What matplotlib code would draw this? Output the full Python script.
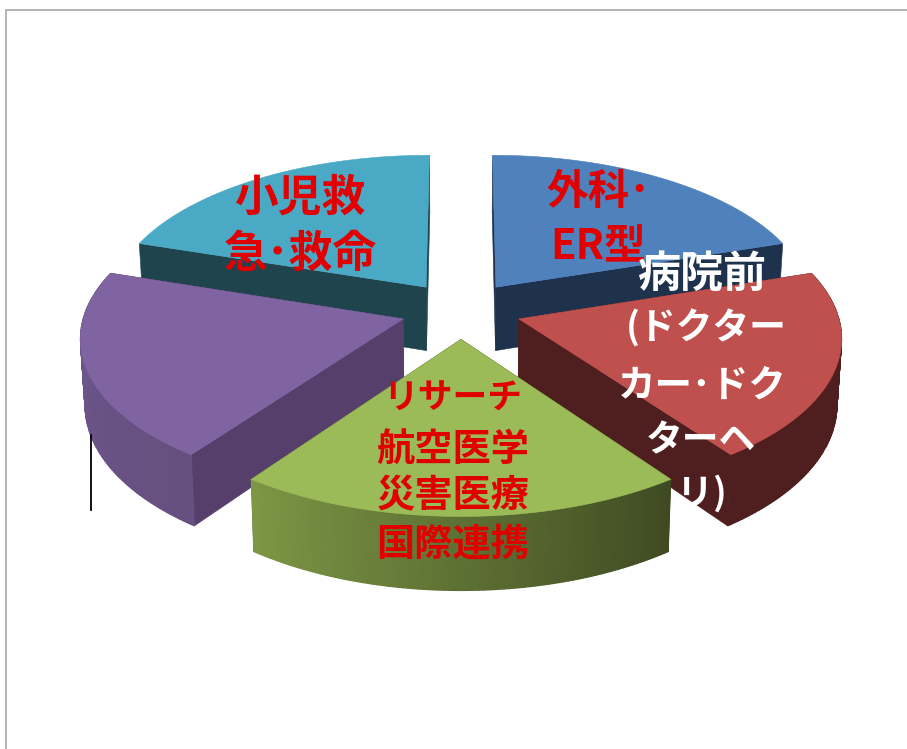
import numpy as np
import matplotlib
matplotlib.use("Agg")
import matplotlib.pyplot as plt
from matplotlib.colors import to_rgb
from matplotlib.patches import Polygon

plt.rcParams['font.family'] = ['Noto Sans CJK JP', 'DejaVu Sans']

# Five equal slices, clockwise from 12 o'clock
slice_names = ['外科･ER型', '病院前', 'リサーチ', '無記載', '小児救急･救命']
values = [20, 20, 20, 20, 20]
top_colors = ['#4f81bd', '#c0504d', '#9bbb59', '#8064a2', '#4aa9c4']
cut_colors = ['#1e324d', '#4f1f1f', '#3f4a22', '#56406b', '#1f444e']
# side gradient, start of arc -> end of arc (clockwise)
arc_start = ['#1e324d', '#4f1f1f', '#3f4a22', '#65507f', '#1f444e']
arc_end = ['#1e324d', '#4f1f1f', '#7d9846', '#6f5790', '#1f444e']

# Projection of the tilted pie, in pixels
cx, cy = 461, 310
rx, ry = 318, 151
persp = 0.109
explode = 0.19
depth = 64.5
shrink = 0.012

# Text lines: text, x, y, size, colour
red = '#e00000'
text_lines = [
    ('小児救', 300, 198, 31.5, red),
    ('急･救命', 300, 254, 31.5, red),
    ('外科･', 598, 192, 30, red),
    ('ER型', 598, 247, 30, red),
    ('病院前', 702, 274, 31, 'white'),
    ('(ドクター', 706, 329, 26.5, 'white'),
    ('カー･ドク', 702, 385, 27, 'white'),
    ('ターヘ', 701, 441, 26.5, 'white'),
    ('リ)', 702, 494, 26, 'white'),
    ('リサーチ', 453, 398, 25, red),
    ('航空医学', 453, 449, 27.5, red),
    ('災害医療', 453, 496, 27.5, red),
    ('国際連携', 453, 544, 27.5, red),
]


def project(x, y, z=0.0):
    x = np.asarray(x, dtype=float)
    y = np.asarray(y, dtype=float)
    s = 1 / (1 + persp * y)
    sx = cx + rx * x * s * (1 - shrink * z)
    sy = cy - ry * y * s + depth * s * z
    return np.column_stack([np.atleast_1d(sx), np.atleast_1d(sy)])


fig = plt.figure(figsize=(9.07, 7.49), dpi=100)
ax = fig.add_axes([0, 0, 1, 1])

# angles of every slice
fractions = np.array(values) / sum(values)
edges = 90 - 360 * np.concatenate([[0], np.cumsum(fractions)])

# back slices first
draw_order = [4, 0, 3, 1, 2]
zo = 2
for i in draw_order:
    a0, a1 = np.radians(edges[i]), np.radians(edges[i + 1])
    mid = (a0 + a1) / 2
    ox, oy = explode * np.cos(mid), explode * np.sin(mid)
    th = np.linspace(a0, a1, 90)
    xs = ox + np.cos(th)
    ys = oy + np.sin(th)

    # cut faces
    for a in (th[0], th[-1]):
        ex, ey = ox + np.cos(a), oy + np.sin(a)
        seg_x, seg_y = [ox, ex], [oy, ey]
        face = np.vstack([project(seg_x, seg_y), project(seg_x[::-1], seg_y[::-1], 1.0)])
        ax.add_patch(Polygon(face, closed=True, fc=cut_colors[i], ec=cut_colors[i], lw=0.4, zorder=zo))

    top = project(xs, ys)
    # outer wall as one shaded mesh for the gradient, back slices don't show it
    if np.sin(mid) < 0.5:
        bot = project(xs, ys, 1.0)
        t = np.linspace(0, 1, len(th))[:, None]
        c0, c1 = np.array(to_rgb(arc_start[i])), np.array(to_rgb(arc_end[i]))
        col = c0 + (c1 - c0) * t
        mesh_x = np.vstack([top[:, 0], bot[:, 0]])
        mesh_y = np.vstack([top[:, 1], bot[:, 1]])
        ax.pcolormesh(mesh_x, mesh_y, np.stack([col, col]), shading='gouraud', zorder=zo)

    outline = np.vstack([project(ox, oy), top])
    ax.add_patch(Polygon(outline, closed=True, fc=top_colors[i], ec=top_colors[i], lw=0.4, zorder=zo + 0.5))
    zo += 1

ax.set_xlim(0, 907)
ax.set_ylim(749, 0)
ax.axis('off')

# frame and stray line
ax.plot([6, 6, 907], [749, 10, 10], color='#a8a8a8', lw=1.2, zorder=1, clip_on=False)
ax.plot([90.5, 90.5], [435, 510], color='black', lw=1.3, zorder=20)

for txt, x, y, size, col in text_lines:
    ax.text(x, y, txt, fontsize=size, color=col, fontweight='bold', ha='center', va='center', zorder=30)

fig.savefig('out.png', dpi=100)
